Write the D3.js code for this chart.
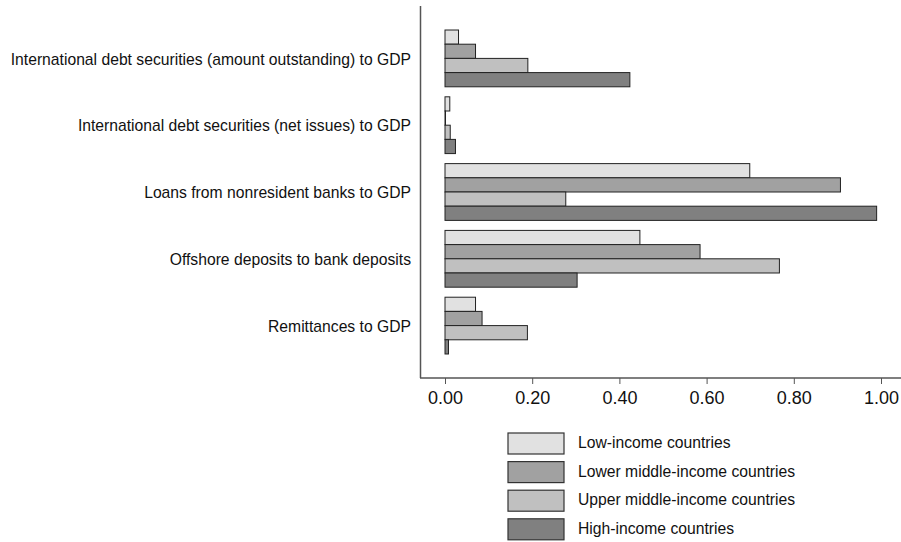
<!DOCTYPE html>
<html>
<head>
<meta charset="utf-8">
<script src="https://cdn.jsdelivr.net/npm/d3@7"></script>
<style>
  body { margin: 0; background: #fff; }
  text { font-family: "Liberation Sans", Arial, Helvetica, sans-serif; fill: #111; }
</style>
</head>
<body>
<div id="chart"></div>
<script>
// categories (top to bottom) and income groups
let categories = [
  "International debt securities (amount outstanding) to GDP",
  "International debt securities (net issues) to GDP",
  "Loans from nonresident banks to GDP",
  "Offshore deposits to bank deposits",
  "Remittances to GDP"
];
let groups = [
  "Low-income countries",
  "Lower middle-income countries",
  "Upper middle-income countries",
  "High-income countries"
];

// values per income group, in category order
let lowIncome = [0.031, 0.011, 0.699, 0.447, 0.070];
let lowerMiddle = [0.070, 0.001, 0.907, 0.585, 0.085];
let upperMiddle = [0.190, 0.012, 0.277, 0.767, 0.189];
let highIncome = [0.424, 0.024, 0.990, 0.303, 0.008];

let xTicks = [0, 0.2, 0.4, 0.6, 0.8, 1.0];

let colors = ["#e1e1e1", "#a1a1a1", "#c0c0c0", "#808080"];

let svgWidth = 901;
let svgHeight = 542;

let svg = d3.select("#chart")
  .append("svg")
  .attr("width", svgWidth)
  .attr("height", svgHeight);

// build rows: one per category holding the four group values
let series = [lowIncome, lowerMiddle, upperMiddle, highIncome];
let rows = categories.map((c, i) => ({
  cat: c,
  values: groups.map((g, j) => ({ group: g, value: series[j][i], idx: j }))
}));

let xScale = d3.scaleLinear()
  .domain([0, 1])
  .range([445, 881]);

let yScale = d3.scaleBand()
  .domain(categories)
  .range([25, 359])
  .paddingInner(0.15)
  .paddingOuter(0.075);

let ySub = d3.scaleBand()
  .domain(groups)
  .range([0, yScale.bandwidth()]);

// axes lines
let axisY = 378;
svg.append("line")
  .attr("x1", 420.5).attr("x2", 420.5)
  .attr("y1", 6).attr("y2", axisY)
  .attr("stroke", "#555").attr("stroke-width", 1.5);

let bottomAxis = d3.axisBottom(xScale)
  .tickValues(xTicks)
  .tickFormat(d3.format(".2f"))
  .tickSize(6)
  .tickSizeOuter(0);

let xAxis = svg.append("g")
  .attr("transform", `translate(0, ${axisY})`)
  .call(bottomAxis);

xAxis.select(".domain").remove();
xAxis.append("line")
  .attr("x1", 420).attr("x2", 901)
  .attr("stroke", "#555").attr("stroke-width", 1.5);
xAxis.selectAll(".tick line").attr("stroke", "#555").attr("stroke-width", 1);
xAxis.selectAll(".tick text")
  .attr("y", 13)
  .style("font-size", "18px")
  .style("font-family", "Liberation Sans, Arial, sans-serif")
  .attr("fill", "#111");

// bars
let rowGroups = svg.append("g").selectAll("g")
  .data(rows)
  .enter()
  .append("g")
  .attr("transform", d => `translate(0, ${yScale(d.cat)})`);

rowGroups.selectAll("rect")
  .data(d => d.values)
  .enter()
  .append("rect")
  .attr("x", xScale(0))
  .attr("y", d => ySub(d.group))
  .attr("width", d => Math.max(0.5, xScale(d.value) - xScale(0)))
  .attr("height", ySub.bandwidth())
  .attr("fill", d => colors[d.idx])
  .attr("stroke", "#222")
  .attr("stroke-width", 1);

// category labels
svg.append("g").selectAll("text")
  .data(categories)
  .enter()
  .append("text")
  .attr("x", 411)
  .attr("y", d => yScale(d) + yScale.bandwidth() / 2 + 2)
  .attr("text-anchor", "end")
  .attr("dominant-baseline", "middle")
  .style("font-size", "15.7px")
  .text(d => d);

// legend
let legend = svg.append("g")
  .attr("transform", "translate(508, 433)");

let legendItems = legend.selectAll("g")
  .data(groups)
  .enter()
  .append("g")
  .attr("transform", (d, i) => `translate(0, ${i * 28.6})`);

legendItems.append("rect")
  .attr("width", 56)
  .attr("height", 21)
  .attr("fill", (d, i) => colors[i])
  .attr("stroke", "#333")
  .attr("stroke-width", 1.2);

legendItems.append("text")
  .attr("x", 70)
  .attr("y", 11)
  .attr("dominant-baseline", "middle")
  .style("font-size", "15.7px")
  .text(d => d);
</script>
</body>
</html>
